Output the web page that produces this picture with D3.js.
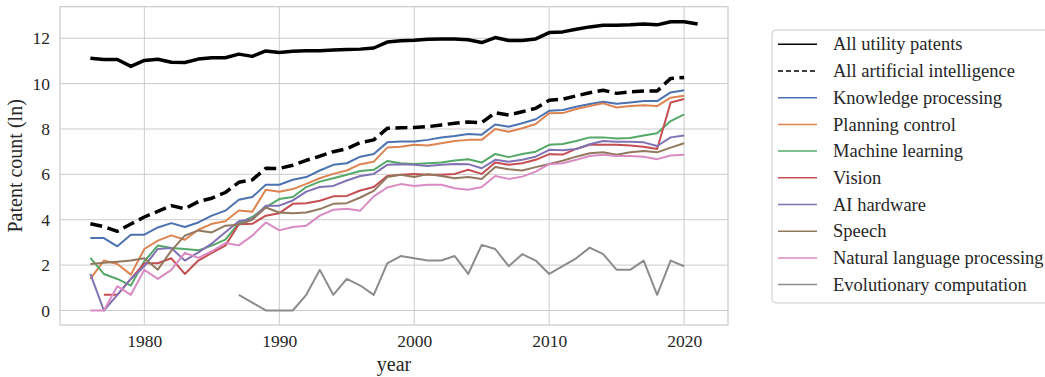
<!DOCTYPE html>
<html>
<head>
<meta charset="utf-8">
<script src="https://cdn.jsdelivr.net/npm/d3@7"></script>
<style>
  html, body { margin: 0; padding: 0; background: #fff; }
  svg { display: block; font-family: "Liberation Serif", "Times New Roman", serif; }
</style>
</head>
<body>
<svg id="chart" width="1045" height="377"></svg>
<script>
// Yearly patent counts on a natural-log scale
const years = [1976, 1977, 1978, 1979, 1980, 1981, 1982, 1983, 1984, 1985,
               1986, 1987, 1988, 1989, 1990, 1991, 1992, 1993, 1994, 1995,
               1996, 1997, 1998, 1999, 2000, 2001, 2002, 2003, 2004, 2005,
               2006, 2007, 2008, 2009, 2010, 2011, 2012, 2013, 2014, 2015,
               2016, 2017, 2018, 2019, 2020, 2021];

const allUtility = [11.12, 11.06, 11.06, 10.76, 11.02, 11.07, 10.94, 10.93, 11.08, 11.14,
                    11.14, 11.30, 11.20, 11.44, 11.37, 11.43, 11.45, 11.45, 11.48, 11.50,
                    11.52, 11.57, 11.83, 11.89, 11.91, 11.96, 11.97, 11.97, 11.93, 11.81,
                    12.03, 11.90, 11.90, 11.97, 12.25, 12.28, 12.40, 12.50, 12.57, 12.57,
                    12.59, 12.63, 12.59, 12.73, 12.73, 12.63];

const allAI = [3.82, 3.70, 3.49, 3.81, 4.12, 4.37, 4.62, 4.48, 4.80, 4.95,
               5.20, 5.65, 5.76, 6.27, 6.26, 6.40, 6.62, 6.80, 7.00, 7.13,
               7.40, 7.52, 8.03, 8.05, 8.07, 8.10, 8.18, 8.25, 8.31, 8.28,
               8.72, 8.62, 8.76, 8.91, 9.27, 9.31, 9.46, 9.60, 9.71, 9.57,
               9.64, 9.67, 9.67, 10.23, 10.27];

const knowledgeProcessing = [3.19, 3.19, 2.83, 3.34, 3.34, 3.66, 3.85, 3.68, 3.88, 4.18,
                             4.40, 4.88, 5.00, 5.54, 5.54, 5.76, 5.88, 6.17, 6.42, 6.49,
                             6.78, 6.90, 7.41, 7.45, 7.45, 7.52, 7.62, 7.69, 7.78, 7.75,
                             8.20, 8.10, 8.25, 8.43, 8.80, 8.84, 8.98, 9.10, 9.20, 9.11,
                             9.17, 9.23, 9.23, 9.61, 9.71];

const planningControl = [1.39, 2.20, 2.05, 1.58, 2.71, 3.08, 3.31, 3.12, 3.56, 3.82,
                         3.93, 4.41, 4.35, 5.32, 5.23, 5.35, 5.58, 5.83, 6.02, 6.17,
                         6.45, 6.56, 7.18, 7.22, 7.30, 7.27, 7.37, 7.47, 7.52, 7.52,
                         8.00, 7.88, 8.03, 8.22, 8.69, 8.70, 8.88, 9.01, 9.13, 8.95,
                         9.01, 9.05, 9.01, 9.38, 9.46];

const machineLearning = [2.32, 1.61, 1.39, 1.10, 2.17, 2.86, 2.75, 2.71, 2.65, 2.86,
                         3.12, 3.85, 4.12, 4.56, 4.91, 5.00, 5.44, 5.68, 5.83, 5.98,
                         6.15, 6.20, 6.59, 6.49, 6.46, 6.49, 6.52, 6.61, 6.67, 6.52,
                         6.90, 6.76, 6.90, 7.00, 7.30, 7.34, 7.47, 7.63, 7.63, 7.58,
                         7.60, 7.71, 7.81, 8.35, 8.64];

const vision = [null, 0.69, 0.69, 1.39, 2.08, 2.08, 2.30, 1.61, 2.20, 2.54,
                2.86, 3.80, 3.82, 4.18, 4.29, 4.70, 4.73, 4.84, 5.03, 5.05,
                5.29, 5.44, 5.93, 5.98, 6.02, 5.98, 5.98, 6.02, 6.20, 6.02,
                6.52, 6.42, 6.49, 6.64, 6.89, 6.87, 7.12, 7.30, 7.30, 7.30,
                7.27, 7.22, 7.12, 9.17, 9.32];

const aiHardware = [1.61, 0.00, 0.69, 1.39, 1.95, 2.71, 2.75, 2.20, 2.56, 2.95,
                    3.45, 3.93, 4.03, 4.62, 4.62, 4.85, 5.24, 5.44, 5.49, 5.73,
                    5.93, 6.02, 6.42, 6.45, 6.42, 6.37, 6.42, 6.46, 6.45, 6.27,
                    6.64, 6.56, 6.64, 6.78, 7.08, 7.06, 7.12, 7.33, 7.47, 7.44,
                    7.44, 7.41, 7.25, 7.63, 7.71];

const speech = [2.05, 2.10, 2.15, 2.20, 2.30, 1.80, 2.64, 3.30, 3.53, 3.44,
                3.74, 3.78, 4.00, 4.54, 4.32, 4.29, 4.32, 4.47, 4.70, 4.73,
                4.98, 5.27, 5.88, 5.98, 5.88, 6.01, 5.93, 5.83, 5.88, 5.80,
                6.32, 6.23, 6.17, 6.32, 6.46, 6.60, 6.78, 6.93, 6.97, 6.86,
                6.97, 7.03, 6.97, 7.18, 7.37];

const naturalLanguage = [0.00, 0.00, 1.07, 0.69, 1.79, 1.39, 1.79, 2.54, 2.32, 2.61,
                         2.97, 2.87, 3.30, 3.88, 3.53, 3.68, 3.74, 4.18, 4.44, 4.48,
                         4.40, 5.03, 5.42, 5.57, 5.49, 5.54, 5.54, 5.39, 5.32, 5.44,
                         5.93, 5.80, 5.90, 6.12, 6.45, 6.49, 6.64, 6.81, 6.86, 6.81,
                         6.81, 6.78, 6.67, 6.83, 6.86];

const evolutionary = [null, null, null, null, null, null, null, null, null, null,
                      null, 0.69, 0.35, 0.00, 0.00, 0.00, 0.69, 1.79, 0.69, 1.39,
                      1.10, 0.69, 2.08, 2.40, 2.30, 2.20, 2.20, 2.40, 1.61, 2.89,
                      2.71, 1.95, 2.48, 2.20, 1.61, 1.95, 2.30, 2.77, 2.48, 1.79,
                      1.79, 2.20, 0.69, 2.20, 1.95];

const seriesNames = ["All utility patents", "All artificial intelligence", "Knowledge processing",
                     "Planning control", "Machine learning", "Vision", "AI hardware", "Speech",
                     "Natural language processing", "Evolutionary computation"];
const seriesValues = [allUtility, allAI, knowledgeProcessing, planningControl, machineLearning,
                      vision, aiHardware, speech, naturalLanguage, evolutionary];
const seriesColors = ["#000000", "#000000", "#4C72B0", "#DD8452", "#55A868",
                      "#C44E52", "#8172B3", "#937860", "#DA8BC3", "#8C8C8C"];

const xTicks = [1980, 1990, 2000, 2010, 2020];
const yTicks = [0, 2, 4, 6, 8, 10, 12];

// ---- layout ----
const svg = d3.select("#chart");
const plot = { left: 60, right: 728, top: 6.7, bottom: 325 };
const textColor = "#262626";
const gridColor = "#cccccc";

const x = d3.scaleLinear().domain([1973.75, 2023.25]).range([plot.left, plot.right]);
const y = d3.scaleLinear().domain([-0.64, 13.39]).range([plot.bottom, plot.top]);

// grid lines
const grid = svg.append("g");
grid.selectAll("line.gx").data(xTicks).join("line")
  .attr("x1", d => x(d)).attr("x2", d => x(d))
  .attr("y1", plot.top).attr("y2", plot.bottom)
  .attr("stroke", gridColor).attr("stroke-width", 1);
grid.selectAll("line.gy").data(yTicks).join("line")
  .attr("x1", plot.left).attr("x2", plot.right)
  .attr("y1", d => y(d)).attr("y2", d => y(d))
  .attr("stroke", gridColor).attr("stroke-width", 1);

// axes (tick labels only; the frame is drawn separately)
const xAxis = svg.append("g")
  .attr("transform", `translate(0,${plot.bottom})`)
  .call(d3.axisBottom(x).tickValues(xTicks).tickFormat(d3.format("d")).tickSize(0).tickPadding(10));
const yAxis = svg.append("g")
  .attr("transform", `translate(${plot.left},0)`)
  .call(d3.axisLeft(y).tickValues(yTicks).tickSize(0).tickPadding(10));
[xAxis, yAxis].forEach(g => {
  g.select(".domain").remove();
  g.selectAll("text")
    .attr("fill", textColor)
    .style("font-family", '"Liberation Serif", serif')
    .style("font-size", "17.5px");
});

// frame
svg.append("rect")
  .attr("x", plot.left).attr("y", plot.top)
  .attr("width", plot.right - plot.left).attr("height", plot.bottom - plot.top)
  .attr("fill", "none").attr("stroke", gridColor).attr("stroke-width", 1.25);

// series lines
const lineGen = d3.line()
  .defined(d => d.v !== null)
  .x(d => x(d.year))
  .y(d => y(d.v));

const lines = svg.append("g");
seriesValues.forEach((vals, i) => {
  const pts = vals.map((v, j) => ({ year: years[j], v: v }));
  lines.append("path")
    .datum(pts)
    .attr("d", lineGen)
    .attr("fill", "none")
    .attr("stroke", seriesColors[i])
    .attr("stroke-width", i < 2 ? 3.5 : 2)
    .attr("stroke-linejoin", "round")
    .attr("stroke-dasharray", i === 1 ? "12,5.5" : null);
});

// axis labels
svg.append("text")
  .attr("x", (plot.left + plot.right) / 2).attr("y", 371)
  .attr("text-anchor", "middle")
  .attr("fill", textColor)
  .style("font-size", "20px")
  .text("year");
svg.append("text")
  .attr("transform", `translate(22,${(plot.top + plot.bottom) / 2}) rotate(-90)`)
  .attr("text-anchor", "middle")
  .attr("fill", textColor)
  .style("font-size", "20px")
  .text("Patent count (ln)");

// legend
const legend = svg.append("g").attr("transform", "translate(772,30)");
legend.append("rect")
  .attr("x", 0).attr("y", 0).attr("width", 300).attr("height", 273)
  .attr("rx", 4).attr("ry", 4)
  .attr("fill", "#ffffff").attr("fill-opacity", 0.8)
  .attr("stroke", gridColor).attr("stroke-width", 1);
const rows = legend.selectAll("g.row").data(seriesNames).join("g")
  .attr("transform", (d, i) => `translate(0,${14.3 + i * 26.7})`);
rows.append("line")
  .attr("x1", 6).attr("x2", 45).attr("y1", 0).attr("y2", 0)
  .attr("stroke", (d, i) => seriesColors[i])
  .attr("stroke-width", (d, i) => i < 2 ? 1.4 : 1.5)
  .attr("stroke-dasharray", (d, i) => i === 1 ? "5,3" : null);
rows.append("text")
  .attr("x", 61).attr("y", 0)
  .attr("dy", "0.33em")
  .attr("fill", textColor)
  .style("font-size", "18.5px")
  .text(d => d);
</script>
</body>
</html>
